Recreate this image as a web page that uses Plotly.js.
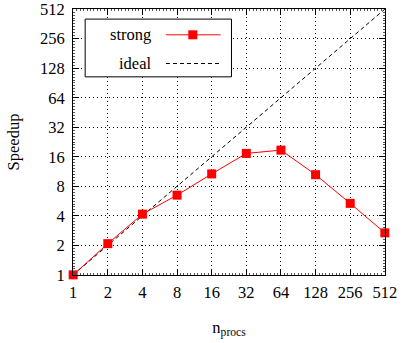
<!DOCTYPE html>
<html>
<head>
<meta charset="utf-8">
<script src="https://cdn.plot.ly/plotly-3.0.1.min.js"></script>
<style>html,body{margin:0;padding:0;background:#fff;}#chart{width:415px;height:343px;}</style>
</head>
<body>
<div id="chart"></div>
<script>
const nprocs = [1, 2, 4, 8, 16, 32, 64, 128, 256, 512];
const strongSpeedup = [1, 2.08, 4.16, 6.5, 10.7, 17.3, 18.7, 10.5, 5.36, 2.68];
const idealSpeedup = [1, 512];
const idealProcs = [1, 512];
const tickVals = [1, 2, 4, 8, 16, 32, 64, 128, 256, 512];
const tickText = ["1", "2", "4", "8", "16", "32", "64", "128", "256", "512"];

const FAM = "Liberation Serif";
function mkFont(sz) { return {family: FAM, size: sz, color: "#000"}; }

// minor tick positions (styling only): 10 subdivisions per factor of two
const minorVals = [];
for (let k = 0; k < 9; k++) for (let j = 1; j < 10; j++) minorVals.push(Math.pow(2, k + j / 10));

const traces = [
  {
    x: idealProcs, y: idealSpeedup, type: "scatter", mode: "lines", name: "ideal",
    line: {color: "#000", width: 1, dash: "4px,3px"}, showlegend: false, hoverinfo: "skip"
  },
  {
    x: nprocs, y: strongSpeedup, type: "scatter", mode: "lines+markers", name: "strong",
    line: {color: "#ff0000", width: 1}, marker: {symbol: "square", size: 9, color: "#ff0000"},
    cliponaxis: false, showlegend: false
  }
];

function axis(extra) {
  return Object.assign({
    type: "log", tickmode: "array", tickvals: tickVals, ticktext: tickText,
    range: [-0.0015, Math.log10(512) + 0.0015], showline: true, linecolor: "#000", linewidth: 1, mirror: "ticks",
    ticks: "inside", ticklen: 6, tickcolor: "#000", tickwidth: 1,
    showgrid: true, gridcolor: "#000", gridwidth: 1, griddash: "1px,3px",
    zeroline: false, tickfont: mkFont(16.5), ticklabeloverflow: "allow",
    minor: {tickmode: "array", tickvals: minorVals, ticks: "inside", ticklen: 2, tickcolor: "#555", tickwidth: 1, showgrid: false}
  }, extra);
}

// legend (manual, text left / symbol right)
const lx0 = 0.039, lx1 = 0.508, ly0 = 0.745, ly1 = 0.962;
const rowStrong = 0.903, rowIdeal = 0.795;
const sx0 = 0.298, sx1 = 0.473, sm = 0.384;
const shapes = [
  {type: "rect", xref: "paper", yref: "paper", x0: lx0, x1: lx1, y0: ly0, y1: ly1,
   fillcolor: "#fff", line: {color: "#000", width: 1}, layer: "above"},
  {type: "line", xref: "paper", yref: "paper", x0: sx0, x1: sx1, y0: rowStrong, y1: rowStrong,
   line: {color: "#ff0000", width: 1}, layer: "above"},
  {type: "rect", xref: "paper", yref: "paper", xsizemode: "pixel", ysizemode: "pixel",
   xanchor: sm, yanchor: rowStrong, x0: -4.5, x1: 4.5, y0: -4.5, y1: 4.5,
   fillcolor: "#ff0000", line: {width: 0}, layer: "above"},
  {type: "line", xref: "paper", yref: "paper", x0: sx0, x1: sx1, y0: rowIdeal, y1: rowIdeal,
   line: {color: "#000", width: 1, dash: "4px,3px"}, layer: "above"}
];
const annotations = [
  {xref: "paper", yref: "paper", x: 0.255, y: rowStrong, xanchor: "right", yanchor: "middle",
   text: "strong", showarrow: false, font: mkFont(16.5)},
  {xref: "paper", yref: "paper", x: 0.255, y: rowIdeal, xanchor: "right", yanchor: "middle",
   text: "ideal", showarrow: false, font: mkFont(16.5)}
];

const layout = {
  width: 415, height: 343,
  margin: {l: 73, r: 30, t: 9, b: 68},
  paper_bgcolor: "#fff", plot_bgcolor: "#fff",
  font: mkFont(16.5),
  showlegend: false,
  xaxis: axis({title: {text: "n<sub>procs</sub>", font: mkFont(16.5), standoff: 20}, ticklabelstandoff: 2}),
  yaxis: axis({title: {text: "Speedup", font: mkFont(16.5), standoff: 16}, ticklabelstandoff: 4}),
  shapes: shapes,
  annotations: annotations
};

Plotly.newPlot("chart", traces, layout, {displayModeBar: false, staticPlot: true});
</script>
</body>
</html>
